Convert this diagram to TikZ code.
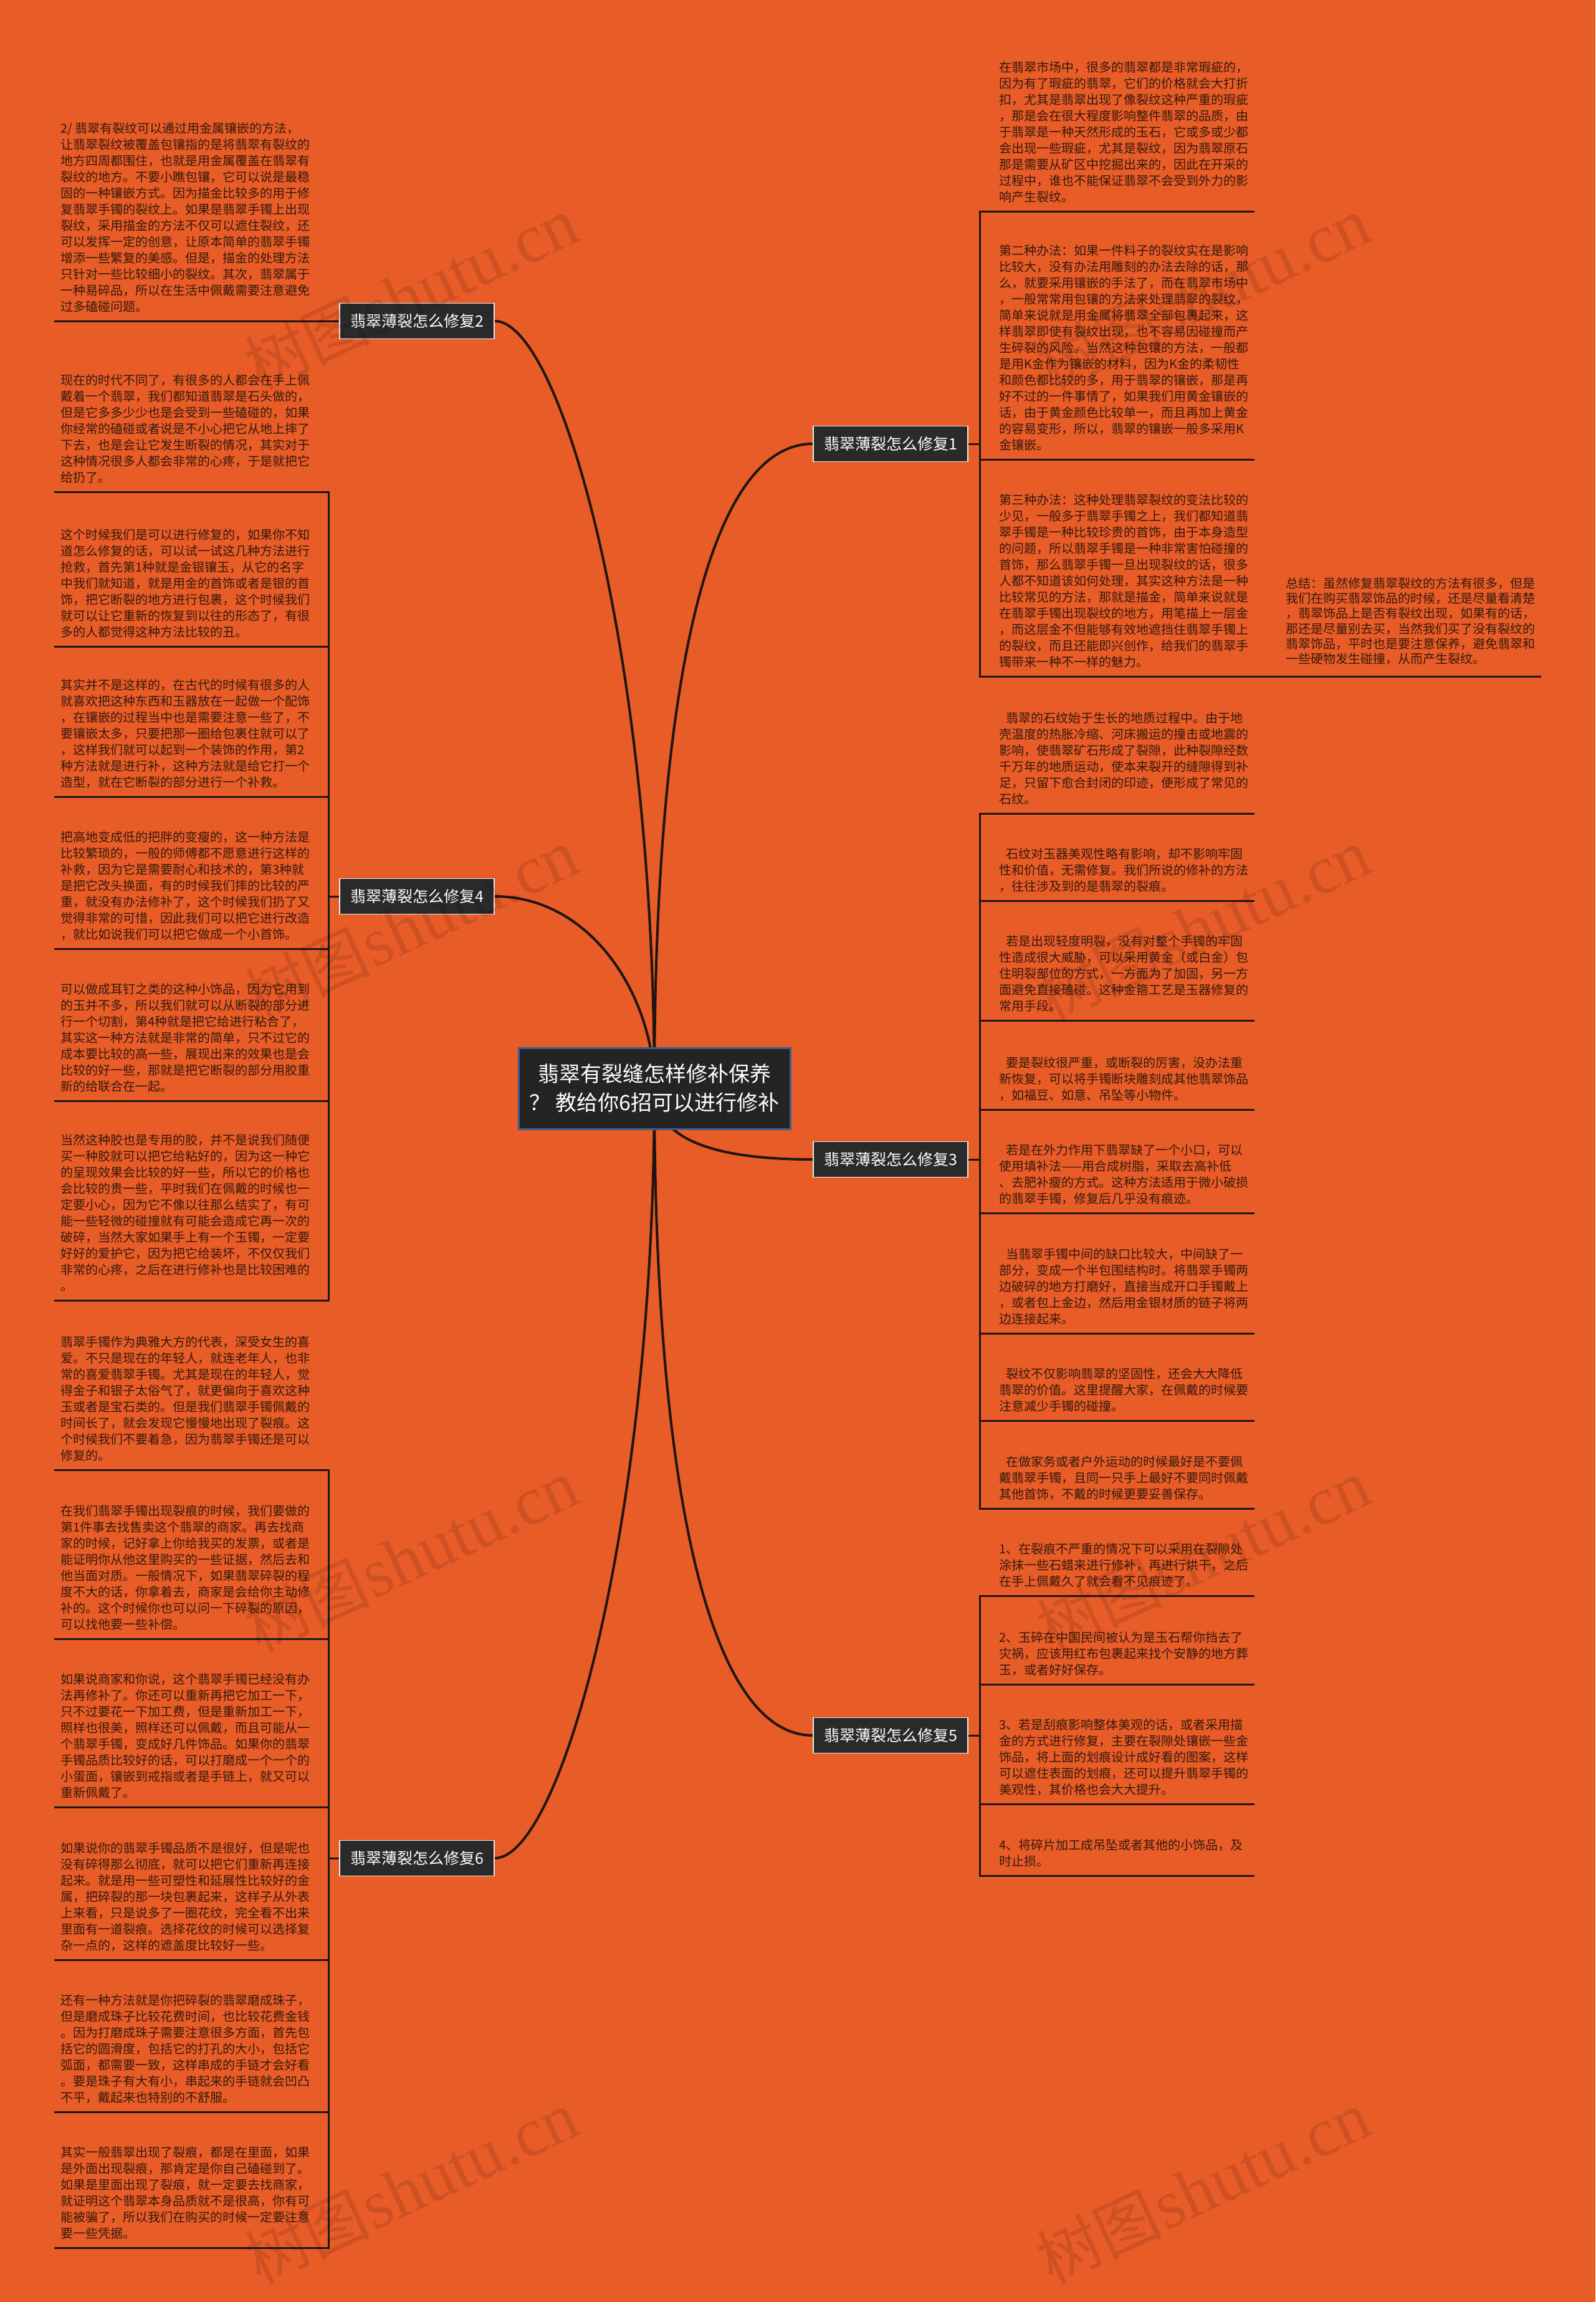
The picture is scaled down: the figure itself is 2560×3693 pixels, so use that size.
\documentclass[tikz,border=0pt]{standalone}
\usepackage{fontspec}
\newfontfamily\cjk{Noto Sans CJK SC}
\newfontfamily\wmserif{Liberation Serif}
\definecolor{bgc}{HTML}{E85C28}
\definecolor{lnc}{HTML}{201510}
\definecolor{txc}{HTML}{35190C}
\definecolor{ndc}{HTML}{2A2A2A}
\definecolor{cbd}{HTML}{3C5B93}
\newcommand\blkstart{\rule{0pt}{18pt}}
\pgfdeclarelayer{back}
\pgfdeclarelayer{mid}
\pgfsetlayers{back,mid,main}
\tikzset{
  tx/.style={anchor=north west, inner sep=0pt, align=left, text=txc, font=\cjk\fontsize{20}{26}\selectfont},
  txs/.style={anchor=north west, inner sep=0pt, align=left, text=txc, font=\cjk\fontsize{20}{24.3}\selectfont},
  bnode/.style={fill=ndc, draw=white!85!gray, line width=1.5pt, text=white, minimum width=248pt, minimum height=57pt, inner sep=0pt, font=\cjk\fontsize{25}{30}\selectfont},
  cnode/.style={fill=ndc!85!black, draw=cbd, line width=3pt, text=white, minimum width=436pt, minimum height=130pt, inner sep=0pt, align=center, font=\cjk\fontsize{34}{46}\selectfont},
  curve/.style={draw=lnc, line width=4pt},
  ln/.style={draw=lnc, line width=3pt},
  wm/.style={text=black, text opacity=0.11, inner sep=0pt, rotate=25}
}
\begin{document}
\begin{tikzpicture}[x=1pt,y=-1pt]
\useasboundingbox (0,0) rectangle (2560,3693);
\begin{pgfonlayer}{back}
\fill[bgc] (0,0) rectangle (2560,3693);
\end{pgfonlayer}

% central and branch nodes
\node[cnode] (c) at (1050,1746) {翡翠有裂缝怎样修补保养\\？ 教给你6招可以进行修补};
\node[bnode] (n2) at (669,515) {翡翠薄裂怎么修复2};
\node[bnode] (n4) at (669,1438) {翡翠薄裂怎么修复4};
\node[bnode] (n6) at (669,2981) {翡翠薄裂怎么修复6};
\node[bnode] (n1) at (1429,712) {翡翠薄裂怎么修复1};
\node[bnode] (n3) at (1429,1860) {翡翠薄裂怎么修复3};
\node[bnode] (n5) at (1429,2784) {翡翠薄裂怎么修复5};

\begin{pgfonlayer}{mid}
\draw[curve] (c.center) .. controls (1050,1050) and (900,515) .. (n2.east);
\draw[curve] (c.center) .. controls (1050,1600) and (950,1438) .. (n4.east);
\draw[curve] (c.center) .. controls (1050,2444) and (900,2981) .. (n6.east);
\draw[curve] (c.center) .. controls (1050,1150) and (1125,712) .. (n1.west);
\draw[curve] (c.center) .. controls (1050,1830) and (1150,1860) .. (n3.west);
\draw[curve] (c.center) .. controls (1050,2332) and (1125,2784) .. (n5.west);

% left side connectors and underlines
\draw[ln] (n2.west) -- (87,515);
\foreach \u in {789,1037,1278,1522,1766,2086} {\draw[ln] (n4.west) -| (527,\u) -- (87,\u);}
\foreach \u in {2358,2629,2899,3144,3388,3606} {\draw[ln] (n6.west) -| (527,\u) -- (87,\u);}
% right side connectors and underlines
\foreach \u in {339,737} {\draw[ln] (n1.east) -| (1572,\u) -- (2013,\u);}
\draw[ln] (n1.east) -| (1572,1085) -- (2473,1085);
\foreach \u in {1305,1445,1637,1780,1946,2139,2279,2420} {\draw[ln] (n3.east) -| (1572,\u) -- (2013,\u);}
\foreach \u in {2560,2702,2894,3009} {\draw[ln] (n5.east) -| (1572,\u) -- (2013,\u);}
\end{pgfonlayer}

% left texts
\node[tx] (tA) at (97,195.6) {\blkstart 2/ 翡翠有裂纹可以通过用金属镶嵌的方法，\\%
让翡翠裂纹被覆盖包镶指的是将翡翠有裂纹的\\%
地方四周都围住，也就是用金属覆盖在翡翠有\\%
裂纹的地方。不要小瞧包镶，它可以说是最稳\\%
固的一种镶嵌方式。因为描金比较多的用于修\\%
复翡翠手镯的裂纹上。如果是翡翠手镯上出现\\%
裂纹，采用描金的方法不仅可以遮住裂纹，还\\%
可以发挥一定的创意，让原本简单的翡翠手镯\\%
增添一些繁复的美感。但是，描金的处理方法\\%
只针对一些比较细小的裂纹。其次，翡翠属于\\%
一种易碎品，所以在生活中佩戴需要注意避免\\%
过多磕碰问题。};
\node[tx] (tB) at (97,599.6) {\blkstart 现在的时代不同了，有很多的人都会在手上佩\\%
戴着一个翡翠，我们都知道翡翠是石头做的，\\%
但是它多多少少也是会受到一些磕碰的，如果\\%
你经常的磕碰或者说是不小心把它从地上摔了\\%
下去，也是会让它发生断裂的情况，其实对于\\%
这种情况很多人都会非常的心疼，于是就把它\\%
给扔了。};
\node[tx] (tC) at (97,847.6) {\blkstart 这个时候我们是可以进行修复的，如果你不知\\%
道怎么修复的话，可以试一试这几种方法进行\\%
抢救，首先第1种就是金银镶玉，从它的名字\\%
中我们就知道，就是用金的首饰或者是银的首\\%
饰，把它断裂的地方进行包裹，这个时候我们\\%
就可以让它重新的恢复到以往的形态了，有很\\%
多的人都觉得这种方法比较的丑。};
\node[tx] (tD) at (97,1088.6) {\blkstart 其实并不是这样的，在古代的时候有很多的人\\%
就喜欢把这种东西和玉器放在一起做一个配饰\\%
，在镶嵌的过程当中也是需要注意一些了，不\\%
要镶嵌太多，只要把那一圈给包裹住就可以了\\%
，这样我们就可以起到一个装饰的作用，第2\\%
种方法就是进行补，这种方法就是给它打一个\\%
造型，就在它断裂的部分进行一个补救。};
\node[tx] (tE) at (97,1332.6) {\blkstart 把高地变成低的把胖的变瘦的，这一种方法是\\%
比较繁琐的，一般的师傅都不愿意进行这样的\\%
补救，因为它是需要耐心和技术的，第3种就\\%
是把它改头换面，有的时候我们摔的比较的严\\%
重，就没有办法修补了，这个时候我们扔了又\\%
觉得非常的可惜，因此我们可以把它进行改造\\%
，就比如说我们可以把它做成一个小首饰。};
\node[tx] (tF) at (97,1576.6) {\blkstart 可以做成耳钉之类的这种小饰品，因为它用到\\%
的玉并不多，所以我们就可以从断裂的部分进\\%
行一个切割，第4种就是把它给进行粘合了，\\%
其实这一种方法就是非常的简单，只不过它的\\%
成本要比较的高一些，展现出来的效果也是会\\%
比较的好一些，那就是把它断裂的部分用胶重\\%
新的给联合在一起。};
\node[tx] (tG) at (97,1818.6) {\blkstart 当然这种胶也是专用的胶，并不是说我们随便\\%
买一种胶就可以把它给粘好的，因为这一种它\\%
的呈现效果会比较的好一些，所以它的价格也\\%
会比较的贵一些，平时我们在佩戴的时候也一\\%
定要小心，因为它不像以往那么结实了，有可\\%
能一些轻微的碰撞就有可能会造成它再一次的\\%
破碎，当然大家如果手上有一个玉镯，一定要\\%
好好的爱护它，因为把它给装坏，不仅仅我们\\%
非常的心疼，之后在进行修补也是比较困难的\\%
。};
\node[tx] (tH) at (97,2142.6) {\blkstart 翡翠手镯作为典雅大方的代表，深受女生的喜\\%
爱。不只是现在的年轻人，就连老年人，也非\\%
常的喜爱翡翠手镯。尤其是现在的年轻人，觉\\%
得金子和银子太俗气了，就更偏向于喜欢这种\\%
玉或者是宝石类的。但是我们翡翠手镯佩戴的\\%
时间长了，就会发现它慢慢地出现了裂痕。这\\%
个时候我们不要着急，因为翡翠手镯还是可以\\%
修复的。};
\node[tx] (tI) at (97,2413.6) {\blkstart 在我们翡翠手镯出现裂痕的时候，我们要做的\\%
第1件事去找售卖这个翡翠的商家。再去找商\\%
家的时候，记好拿上你给我买的发票，或者是\\%
能证明你从他这里购买的一些证据，然后去和\\%
他当面对质。一般情况下，如果翡翠碎裂的程\\%
度不大的话，你拿着去，商家是会给你主动修\\%
补的。这个时候你也可以问一下碎裂的原因，\\%
可以找他要一些补偿。};
\node[tx] (tJ) at (97,2683.6) {\blkstart 如果说商家和你说，这个翡翠手镯已经没有办\\%
法再修补了。你还可以重新再把它加工一下，\\%
只不过要花一下加工费，但是重新加工一下，\\%
照样也很美，照样还可以佩戴，而且可能从一\\%
个翡翠手镯，变成好几件饰品。如果你的翡翠\\%
手镯品质比较好的话，可以打磨成一个一个的\\%
小蛋面，镶嵌到戒指或者是手链上，就又可以\\%
重新佩戴了。};
\node[tx] (tK) at (97,2954.6) {\blkstart 如果说你的翡翠手镯品质不是很好，但是呢也\\%
没有碎得那么彻底，就可以把它们重新再连接\\%
起来。就是用一些可塑性和延展性比较好的金\\%
属，把碎裂的那一块包裹起来，这样子从外表\\%
上来看，只是说多了一圈花纹，完全看不出来\\%
里面有一道裂痕。选择花纹的时候可以选择复\\%
杂一点的，这样的遮盖度比较好一些。};
\node[tx] (tL) at (97,3198.6) {\blkstart 还有一种方法就是你把碎裂的翡翠磨成珠子，\\%
但是磨成珠子比较花费时间，也比较花费金钱\\%
。因为打磨成珠子需要注意很多方面，首先包\\%
括它的圆滑度，包括它的打孔的大小，包括它\\%
弧面，都需要一致，这样串成的手链才会好看\\%
。要是珠子有大有小，串起来的手链就会凹凸\\%
不平，戴起来也特别的不舒服。};
\node[tx] (tM) at (97,3442.6) {\blkstart 其实一般翡翠出现了裂痕，都是在里面，如果\\%
是外面出现裂痕，那肯定是你自己磕碰到了。\\%
如果是里面出现了裂痕，就一定要去找商家，\\%
就证明这个翡翠本身品质就不是很高，你有可\\%
能被骗了，所以我们在购买的时候一定要注意\\%
要一些凭据。};

% right texts
\node[tx] (r1) at (1603,97.6) {\blkstart 在翡翠市场中，很多的翡翠都是非常瑕疵的，\\%
因为有了瑕疵的翡翠，它们的价格就会大打折\\%
扣，尤其是翡翠出现了像裂纹这种严重的瑕疵\\%
，那是会在很大程度影响整件翡翠的品质，由\\%
于翡翠是一种天然形成的玉石，它或多或少都\\%
会出现一些瑕疵，尤其是裂纹，因为翡翠原石\\%
那是需要从矿区中挖掘出来的，因此在开采的\\%
过程中，谁也不能保证翡翠不会受到外力的影\\%
响产生裂纹。};
\node[tx] (r2) at (1603,391.6) {\blkstart 第二种办法：如果一件料子的裂纹实在是影响\\%
比较大，没有办法用雕刻的办法去除的话，那\\%
么，就要采用镶嵌的手法了，而在翡翠市场中\\%
，一般常常用包镶的方法来处理翡翠的裂纹，\\%
简单来说就是用金属将翡翠全部包裹起来，这\\%
样翡翠即使有裂纹出现，也不容易因碰撞而产\\%
生碎裂的风险。当然这种包镶的方法，一般都\\%
是用K金作为镶嵌的材料，因为K金的柔韧性\\%
和颜色都比较的多，用于翡翠的镶嵌，那是再\\%
好不过的一件事情了，如果我们用黄金镶嵌的\\%
话，由于黄金颜色比较单一，而且再加上黄金\\%
的容易变形，所以，翡翠的镶嵌一般多采用K\\%
金镶嵌。};
\node[tx] (r3) at (1603,791.6) {\blkstart 第三种办法：这种处理翡翠裂纹的变法比较的\\%
少见，一般多于翡翠手镯之上，我们都知道翡\\%
翠手镯是一种比较珍贵的首饰，由于本身造型\\%
的问题，所以翡翠手镯是一种非常害怕碰撞的\\%
首饰，那么翡翠手镯一旦出现裂纹的话，很多\\%
人都不知道该如何处理，其实这种方法是一种\\%
比较常见的方法，那就是描金，简单来说就是\\%
在翡翠手镯出现裂纹的地方，用笔描上一层金\\%
，而这层金不但能够有效地遮挡住翡翠手镯上\\%
的裂纹，而且还能即兴创作，给我们的翡翠手\\%
镯带来一种不一样的魅力。};
\node[txs] (sum) at (2063,925.1) {\blkstart 总结：虽然修复翡翠裂纹的方法有很多，但是\\%
我们在购买翡翠饰品的时候，还是尽量看清楚\\%
，翡翠饰品上是否有裂纹出现，如果有的话，\\%
那还是尽量别去买，当然我们买了没有裂纹的\\%
翡翠饰品，平时也是要注意保养，避免翡翠和\\%
一些硬物发生碰撞，从而产生裂纹。};
\node[tx] (r4) at (1603,1141.6) {\blkstart\hspace*{11pt}翡翠的石纹始于生长的地质过程中。由于地\\%
壳温度的热胀冷缩、河床搬运的撞击或地震的\\%
影响，使翡翠矿石形成了裂隙，此种裂隙经数\\%
千万年的地质运动，使本来裂开的缝隙得到补\\%
足，只留下愈合封闭的印迹，便形成了常见的\\%
石纹。};
\node[tx] (r5) at (1603,1359.6) {\blkstart\hspace*{11pt}石纹对玉器美观性略有影响，却不影响牢固\\%
性和价值，无需修复。我们所说的修补的方法\\%
，往往涉及到的是翡翠的裂痕。};
\node[tx] (r6) at (1603,1499.6) {\blkstart\hspace*{11pt}若是出现轻度明裂，没有对整个手镯的牢固\\%
性造成很大威胁，可以采用黄金（或白金）包\\%
住明裂部位的方式，一方面为了加固，另一方\\%
面避免直接磕碰。这种金箍工艺是玉器修复的\\%
常用手段。};
\node[tx] (r7) at (1603,1694.6) {\blkstart\hspace*{11pt}要是裂纹很严重，或断裂的厉害，没办法重\\%
新恢复，可以将手镯断块雕刻成其他翡翠饰品\\%
，如福豆、如意、吊坠等小物件。};
\node[tx] (r8) at (1603,1834.6) {\blkstart\hspace*{11pt}若是在外力作用下翡翠缺了一个小口，可以\\%
使用填补法——用合成树脂，采取去高补低\\%
、去肥补瘦的方式。这种方法适用于微小破损\\%
的翡翠手镯，修复后几乎没有痕迹。};
\node[tx] (r9) at (1603,2001.6) {\blkstart\hspace*{11pt}当翡翠手镯中间的缺口比较大，中间缺了一\\%
部分，变成一个半包围结构时。将翡翠手镯两\\%
边破碎的地方打磨好，直接当成开口手镯戴上\\%
，或者包上金边，然后用金银材质的链子将两\\%
边连接起来。};
\node[tx] (r10) at (1603,2193.6) {\blkstart\hspace*{11pt}裂纹不仅影响翡翠的坚固性，还会大大降低\\%
翡翠的价值。这里提醒大家，在佩戴的时候要\\%
注意减少手镯的碰撞。};
\node[tx] (r11) at (1603,2334.6) {\blkstart\hspace*{11pt}在做家务或者户外运动的时候最好是不要佩\\%
戴翡翠手镯，且同一只手上最好不要同时佩戴\\%
其他首饰，不戴的时候更要妥善保存。};
\node[tx] (r12) at (1603,2474.6) {\blkstart 1、在裂痕不严重的情况下可以采用在裂隙处\\%
涂抹一些石蜡来进行修补，再进行烘干，之后\\%
在手上佩戴久了就会看不见痕迹了。};
\node[tx] (r13) at (1603,2616.6) {\blkstart 2、玉碎在中国民间被认为是玉石帮你挡去了\\%
灾祸，应该用红布包裹起来找个安静的地方葬\\%
玉，或者好好保存。};
\node[tx] (r14) at (1603,2756.6) {\blkstart 3、若是刮痕影响整体美观的话，或者采用描\\%
金的方式进行修复，主要在裂隙处镶嵌一些金\\%
饰品，将上面的划痕设计成好看的图案，这样\\%
可以遮住表面的划痕，还可以提升翡翠手镯的\\%
美观性，其价格也会大大提升。};
\node[tx] (r15) at (1603,2949.6) {\blkstart 4、将碎片加工成吊坠或者其他的小饰品，及\\%
时止损。};

% watermarks
\node[wm] (w1) at (660,471) {{\cjk\fontsize{100}{100}\selectfont 树图} {\wmserif\fontsize{110}{110}\selectfont shutu.cn}};
\node[wm] (w2) at (1931,471) {{\cjk\fontsize{100}{100}\selectfont 树图} {\wmserif\fontsize{110}{110}\selectfont shutu.cn}};
\node[wm] (w3) at (660,1484) {{\cjk\fontsize{100}{100}\selectfont 树图} {\wmserif\fontsize{110}{110}\selectfont shutu.cn}};
\node[wm] (w4) at (1931,1484) {{\cjk\fontsize{100}{100}\selectfont 树图} {\wmserif\fontsize{110}{110}\selectfont shutu.cn}};
\node[wm] (w5) at (660,2496) {{\cjk\fontsize{100}{100}\selectfont 树图} {\wmserif\fontsize{110}{110}\selectfont shutu.cn}};
\node[wm] (w6) at (1931,2496) {{\cjk\fontsize{100}{100}\selectfont 树图} {\wmserif\fontsize{110}{110}\selectfont shutu.cn}};
\node[wm] (w7) at (660,3509) {{\cjk\fontsize{100}{100}\selectfont 树图} {\wmserif\fontsize{110}{110}\selectfont shutu.cn}};
\node[wm] (w8) at (1931,3509) {{\cjk\fontsize{100}{100}\selectfont 树图} {\wmserif\fontsize{110}{110}\selectfont shutu.cn}};
\end{tikzpicture}
\end{document}
